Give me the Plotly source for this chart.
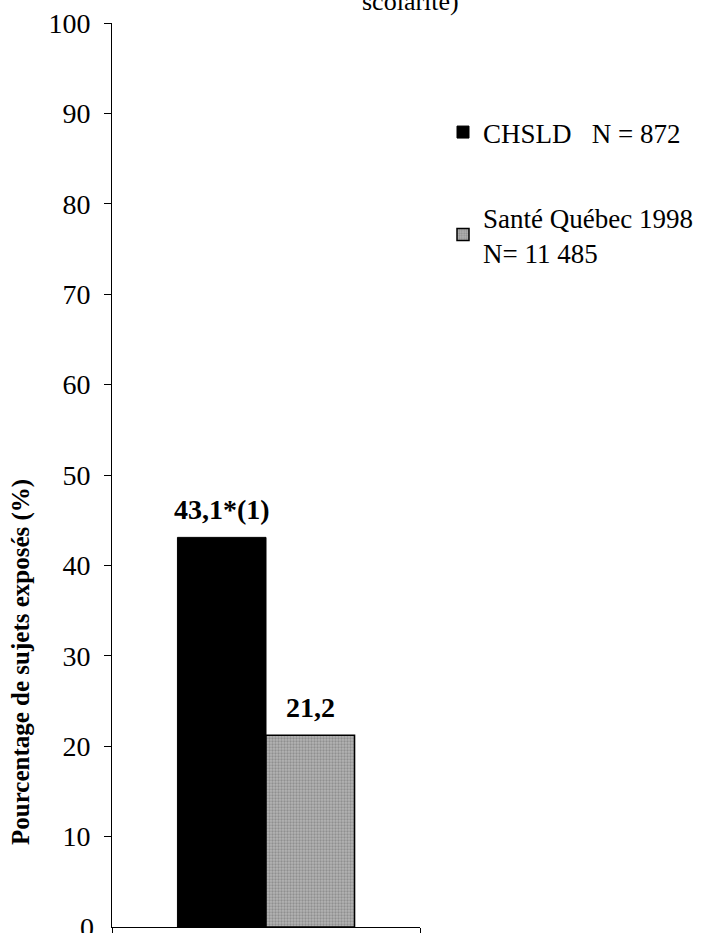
import plotly.graph_objects as go

# Data
categories = ["Exposition"]
series_names = ["CHSLD   N = 872", "Santé Québec 1998<br>N= 11 485"]
chsld_values = [43.1]
sante_quebec_values = [21.2]
value_labels = ["43,1*(1)", "21,2"]
y_ticks = list(range(0, 101, 10))

FONT = "Liberation Serif"
W, H = 701, 933
ML, MR, MT, MB = 112, 281, 23, 6
BARGAP = 0.425
plot_w = W - ML - MR
plot_h = H - MT - MB
bar_px = plot_w * (1 - BARGAP) / 2

fig = go.Figure()
fig.add_trace(go.Bar(
    x=categories, y=chsld_values, name=series_names[0],
    marker=dict(color="#000000", line=dict(color="#000000", width=1)),
    legend="legend",
))
fig.add_trace(go.Bar(
    x=categories, y=sante_quebec_values, name=series_names[1],
    marker=dict(
        color="#9a9a9a",
        line=dict(color="#000000", width=1.5),
        pattern=dict(shape=".", bgcolor="#b4b4b4", fgcolor="#6a6a6a",
                     size=3, solidity=0.45, fillmode="overlay"),
    ),
    legend="legend2",
))

# Value labels above each bar
for i, (vals, lab) in enumerate([(chsld_values, value_labels[0]),
                                 (sante_quebec_values, value_labels[1])]):
    fig.add_annotation(
        x=categories[0], y=vals[0], xref="x", yref="y",
        text=f"<b>{lab}</b>", showarrow=False,
        xshift=(-1 if i == 0 else 1) * bar_px / 2,
        yanchor="bottom", yshift=10,
        font=dict(family=FONT, size=28, color="#000000"),
    )

# "0" label at the axis origin (drawn separately so it is not dropped at the edge)
fig.add_annotation(
    x=0, y=y_ticks[0], xref="paper", yref="y", text=str(y_ticks[0]),
    showarrow=False, xanchor="right", yanchor="middle", xshift=-16,
    font=dict(family=FONT, size=28, color="#000000"),
)

# Y axis title
fig.add_annotation(
    x=(21 - ML) / plot_w, y=(H - MB - 662) / plot_h,
    xref="paper", yref="paper", textangle=-90,
    text="<b>Pourcentage de sujets exposés (%)</b>", showarrow=False,
    xanchor="center", yanchor="middle",
    font=dict(family=FONT, size=25, color="#000000"),
)

# Last line of the chart title
fig.add_annotation(
    x=(410 - ML) / plot_w, y=(H - MB - 18) / plot_h,
    xref="paper", yref="paper", text="scolarité)", showarrow=False,
    xanchor="center", yanchor="bottom",
    font=dict(family=FONT, size=26, color="#000000"),
)

legend_common = dict(
    xref="paper", yref="paper", xanchor="left", yanchor="top",
    bgcolor="rgba(0,0,0,0)", borderwidth=0,
    font=dict(family=FONT, size=27, color="#000000"),
    itemwidth=30,
)

fig.update_layout(
    width=W, height=H,
    margin=dict(l=ML, r=MR, t=MT, b=MB, pad=0, autoexpand=False),
    paper_bgcolor="#ffffff", plot_bgcolor="#ffffff",
    barmode="group", bargap=BARGAP, bargroupgap=0,
    font=dict(family=FONT, size=28, color="#000000"),
    showlegend=True,
    legend=dict(x=(443 - ML) / plot_w, y=(H - MB - 108) / plot_h, **legend_common),
    legend2=dict(x=(443 - ML) / plot_w, y=(H - MB - 193) / plot_h, **legend_common),
    xaxis=dict(
        showline=True, linecolor="#000000", linewidth=1,
        ticks="outside", ticklen=6, tickcolor="#000000", tickson="boundaries",
        showticklabels=False, showgrid=False, zeroline=False,
        range=[-0.5, 0.5], automargin=False,
    ),
    yaxis=dict(
        range=[0, 100], tickvals=y_ticks[1:],
        showline=True, linecolor="#000000", linewidth=1,
        ticks="outside", ticklen=7, tickcolor="#000000",
        showgrid=False, zeroline=False, automargin=False,
        tickfont=dict(family=FONT, size=28, color="#000000"),
        ticklabelstandoff=8,
    ),
)

fig.write_html("out.html")
